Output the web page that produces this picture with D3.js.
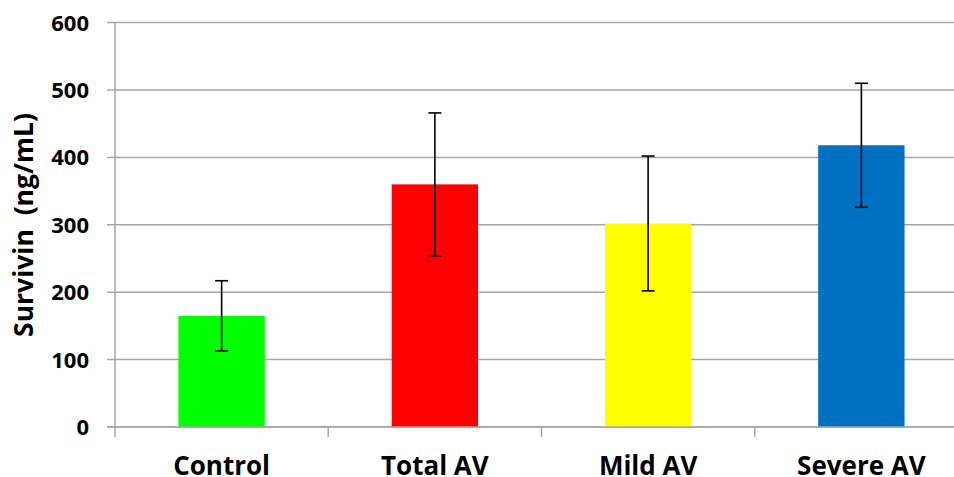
<!DOCTYPE html>
<html><head><meta charset="utf-8">
<script src="https://cdn.jsdelivr.net/npm/d3@7"></script>
<style>body{margin:0;background:#fff;overflow:hidden}svg{display:block}</style>
</head><body>
<svg id="chart" width="954" height="477"></svg>
<script>
const categories = ["Control", "Total AV", "Mild AV", "Severe AV"];
const values = [165, 360, 302, 418];
const errors = [52, 106, 100, 92];
const colors = ["#00ff00", "#ff0000", "#ffff00", "#0070c0"];
const yTicks = [0, 100, 200, 300, 400, 500, 600];
const yTitle = "Survivin  (ng/mL)";

const svg = d3.select("#chart");
const font = "'Open Sans', 'Noto Sans', sans-serif";
const mLeft = 115, mRight = 968, mTop = 22.6, mBottom = 427;

const x = d3.scaleBand().domain(categories).range([mLeft, mRight]).paddingInner(0).paddingOuter(0);
const y = d3.scaleLinear().domain([0, 600]).range([mBottom, mTop]);
const barW = x.bandwidth() * 0.405;

// gridlines
svg.append("g").selectAll("line").data(yTicks).join("line")
  .attr("x1", mLeft - 8).attr("x2", mRight)
  .attr("y1", d => y(d)).attr("y2", d => y(d))
  .attr("stroke", "#a6a6a6").attr("stroke-width", 1.5);

// y axis line
svg.append("line").attr("x1", mLeft).attr("x2", mLeft).attr("y1", mTop).attr("y2", mBottom + 10)
  .attr("stroke", "#a6a6a6").attr("stroke-width", 1.5);

// x tick marks
const bounds = categories.map(c => x(c)).concat([x(categories[categories.length-1]) + x.bandwidth()]);
svg.append("g").selectAll("line").data(bounds.slice(1)).join("line")
  .attr("x1", d => d).attr("x2", d => d).attr("y1", mBottom).attr("y2", mBottom + 10)
  .attr("stroke", "#a6a6a6").attr("stroke-width", 1.5);

// bars
svg.append("g").selectAll("rect").data(categories).join("rect")
  .attr("x", d => x(d) + x.bandwidth()/2 - barW/2)
  .attr("width", barW)
  .attr("y", (d,i) => y(values[i]))
  .attr("height", (d,i) => y(0) - y(values[i]))
  .attr("fill", (d,i) => colors[i]);

// redraw baseline over bars
svg.append("line").attr("x1", mLeft - 8).attr("x2", mRight).attr("y1", y(0)).attr("y2", y(0))
  .attr("stroke", "#a6a6a6").attr("stroke-width", 1.5);

// error bars
const eb = svg.append("g").attr("stroke", "#000").attr("stroke-width", 1.6);
categories.forEach((c, i) => {
  const cx = x(c) + x.bandwidth()/2;
  const hi = y(values[i] + errors[i]), lo = y(values[i] - errors[i]);
  eb.append("line").attr("x1", cx).attr("x2", cx).attr("y1", hi).attr("y2", lo);
  eb.append("line").attr("x1", cx - 6.5).attr("x2", cx + 6.5).attr("y1", hi).attr("y2", hi);
  eb.append("line").attr("x1", cx - 6.5).attr("x2", cx + 6.5).attr("y1", lo).attr("y2", lo);
});

// y tick labels
svg.append("g").selectAll("text").data(yTicks).join("text")
  .attr("x", 89).attr("y", d => y(d)).attr("dy", "0.36em")
  .attr("text-anchor", "end")
  .attr("font-family", font).attr("font-weight", 700).attr("font-size", 22)
  .attr("fill", "#000").text(d => d);

// x labels
svg.append("g").selectAll("text").data(categories).join("text")
  .attr("x", d => x(d) + x.bandwidth()/2).attr("y", 475)
  .attr("text-anchor", "middle")
  .attr("font-family", font).attr("font-weight", 700).attr("font-size", 26)
  .attr("fill", "#000").text(d => d);

// y title
svg.append("text")
  .attr("transform", `translate(33, 225) rotate(-90)`)
  .attr("text-anchor", "middle")
  .attr("font-family", font).attr("font-weight", 700).attr("font-size", 26.5)
  .attr("fill", "#000").style("white-space", "pre")
  .text(yTitle);
</script>
</body></html>
